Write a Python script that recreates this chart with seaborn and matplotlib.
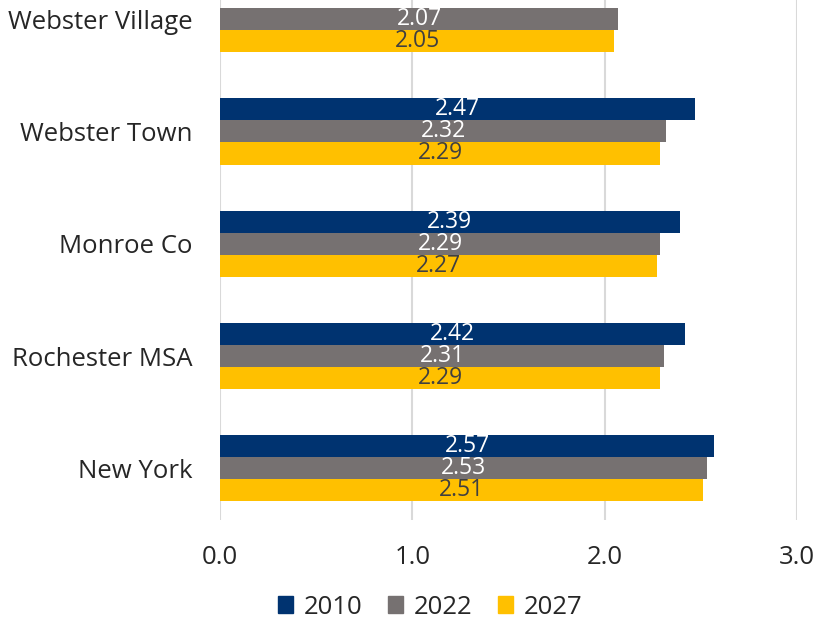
import numpy as np
import pandas as pd
import matplotlib
matplotlib.use("Agg")
import matplotlib.pyplot as plt
import seaborn as sns

areas = ["Webster Village", "Webster Town", "Monroe Co", "Rochester MSA", "New York"]
years = ["2010", "2022", "2027"]
v2010 = [np.nan, 2.47, 2.39, 2.42, 2.57]
v2022 = [2.07, 2.32, 2.29, 2.31, 2.53]
v2027 = [2.05, 2.29, 2.27, 2.29, 2.51]
colors = ["#003370", "#767171", "#FFC000"]
label_colors = ["white", "white", "#404040"]

rows = []
for yr, vals in zip(years, [v2010, v2022, v2027]):
    for a, v in zip(areas, vals):
        rows.append({"area": a, "year": yr, "value": v})
df = pd.DataFrame(rows)

sns.set_style("white")
plt.rcParams["font.family"] = ["Open Sans", "DejaVu Sans"]

fig = plt.figure(figsize=(8.17, 6.22), dpi=100)
ax = fig.add_axes([220 / 817, 1 - 520 / 622, 577 / 817, 520 / 622])

sns.barplot(data=df, y="area", x="value", hue="year", order=areas, hue_order=years,
            palette=colors, orient="h", width=0.59, gap=0, saturation=1,
            linewidth=0, ax=ax, zorder=3)

for cont, lc in zip(ax.containers, label_colors):
    vals = [p.get_width() for p in cont]
    labs = ["" if np.isnan(v) else f"{v:.2f}" for v in vals]
    ax.bar_label(cont, labels=labs, label_type="center", color=lc, fontsize=16.5)

ax.set_xlim(0, 3)
ax.set_ylim(4.46, -0.17)
ax.set_xticks([0, 1, 2, 3])
ax.set_xticklabels(["0.0", "1.0", "2.0", "3.0"])
ax.grid(axis="x", color="#D9D9D9", linewidth=1.5, zorder=0)
ax.tick_params(axis="x", labelsize=18.5, length=0, pad=18)
ax.tick_params(axis="y", labelsize=18.5, length=0, pad=20)
ax.set_xlabel("")
ax.set_ylabel("")
for s in ax.spines.values():
    s.set_visible(False)

ax.legend_.remove()
handles = [plt.Rectangle((0, 0), 1, 1, color=c) for c in colors]
fig.legend(handles, years, loc="center", bbox_to_anchor=(430 / 817, 1 - 607 / 622),
           ncol=3, frameon=False, fontsize=18.5, handlelength=0.6, handleheight=0.6,
           handletextpad=0.4, columnspacing=1.0)

fig.savefig("out.png", dpi=100)
